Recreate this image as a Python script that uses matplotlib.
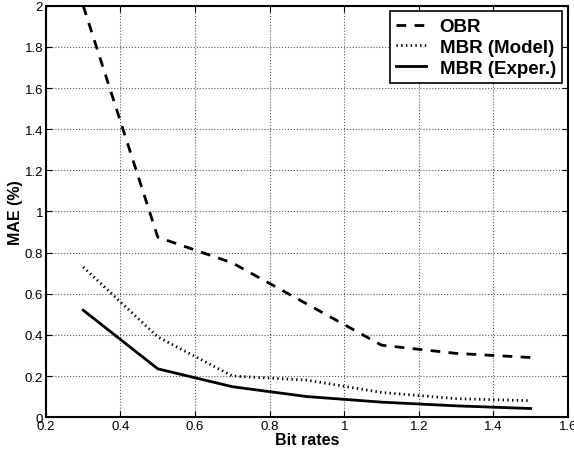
import matplotlib
matplotlib.use('Agg')
import matplotlib.pyplot as plt

plt.rcParams['font.family'] = ['Liberation Sans', 'DejaVu Sans']

bit_rates = [0.3, 0.5, 0.7, 0.9, 1.1, 1.3, 1.5]
obr = [2.0, 0.875, 0.75, 0.55, 0.35, 0.31, 0.29]
mbr_model = [0.73, 0.39, 0.20, 0.18, 0.12, 0.09, 0.08]
mbr_exper = [0.52, 0.235, 0.148, 0.10, 0.073, 0.055, 0.042]

fig = plt.figure(figsize=(5.74, 4.56), dpi=100)
ax = fig.add_axes([0.080, 0.083, 0.9095, 0.902])

ax.plot(bit_rates, obr, 'k--', lw=2, dashes=(3.5, 3), label='OBR')
ax.plot(bit_rates, mbr_model, 'k', lw=2, ls=(0, (0.5, 1.2)), label='MBR (Model)')
ax.plot(bit_rates, mbr_exper, 'k-', lw=2, label='MBR (Exper.)')

ax.set_xlim(0.2, 1.6)
ax.set_ylim(0, 2)
ax.set_xticks([0.2, 0.4, 0.6, 0.8, 1.0, 1.2, 1.4, 1.6])
ax.set_xticklabels(['0.2', '0.4', '0.6', '0.8', '1', '1.2', '1.4', '1.6'])
ax.set_yticks([0, 0.2, 0.4, 0.6, 0.8, 1.0, 1.2, 1.4, 1.6, 1.8, 2.0])
ax.set_yticklabels(['0', '0.2', '0.4', '0.6', '0.8', '1', '1.2', '1.4', '1.6', '1.8', '2'])
ax.tick_params(direction='in', top=True, right=True, labelsize=9.5, length=4, pad=2)
ax.grid(True, ls=':', color='0.35', lw=0.8)
for s in ax.spines.values():
    s.set_linewidth(1.5)

ax.set_xlabel('Bit rates', fontsize=11.5, fontweight='bold', labelpad=0)
ax.set_ylabel('MAE (%)', fontsize=11.5, fontweight='bold', labelpad=1)

leg = ax.legend(loc='upper right', fancybox=False, edgecolor='k', framealpha=1,
                prop={'weight': 'bold', 'size': 13.5}, handlelength=1.6,
                borderpad=0.35, labelspacing=0.2, handletextpad=0.7,
                borderaxespad=0.3)
leg.get_frame().set_linewidth(1.2)

fig.savefig('out.png', dpi=100)
